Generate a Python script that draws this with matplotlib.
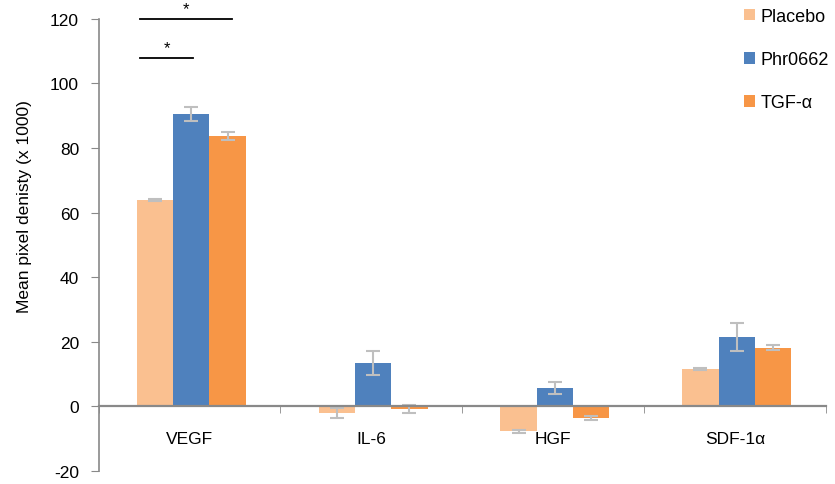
import matplotlib.pyplot as plt
import numpy as np

plt.rcParams['font.family'] = ['Liberation Sans', 'DejaVu Sans']
plt.rcParams['axes.unicode_minus'] = False

categories = ['VEGF', 'IL-6', 'HGF', 'SDF-1α']
series = ['Placebo', 'Phr0662', 'TGF-α']
placebo = [63.9, -2.0, -7.7, 11.7]
placebo_err = [0.4, 1.5, 0.5, 0.3]
phr0662 = [90.6, 13.4, 5.7, 21.4]
phr0662_err = [2.1, 3.8, 1.9, 4.4]
tgf = [83.7, -0.8, -3.6, 18.1]
tgf_err = [1.2, 1.2, 0.7, 0.8]
colors = ['#FAC090', '#4F81BD', '#F79646']

fig = plt.figure(figsize=(8.35, 4.85), dpi=100)
ax = fig.add_axes([0.118, 0.027, 0.871, 0.932])

x = np.arange(len(categories))
width = 0.2
vals = [placebo, phr0662, tgf]
errs = [placebo_err, phr0662_err, tgf_err]
for i, (v, e, c, name) in enumerate(zip(vals, errs, colors, series)):
    ax.bar(x + (i - 1) * width + 0.01, v, width, color=c, label=name,
           yerr=e, ecolor='#BFBFBF', capsize=5,
           error_kw={'elinewidth': 1.5, 'capthick': 1.5})

ax.set_xlim(-0.5, 3.5)
ax.set_ylim(-20, 120)
ax.set_yticks(np.arange(-20, 121, 20))
ax.tick_params(axis='y', labelsize=12.5, length=6, color='#898989', direction='out', pad=8)

ax.set_xticks(x)
ax.set_xticklabels(categories)
ax.set_xticks(np.arange(-0.5, 4, 1), minor=True)
ax.tick_params(axis='x', which='major', length=0, pad=18, labelsize=12.5)
ax.tick_params(axis='x', which='minor', length=5, color='#898989', direction='out')

for s in ['top', 'right']:
    ax.spines[s].set_visible(False)
ax.spines['bottom'].set_position(('data', 0))
ax.spines['left'].set_color('#898989')
ax.spines['left'].set_linewidth(1.2)
ax.spines['bottom'].set_color('#898989')
ax.spines['bottom'].set_linewidth(1.6)

ax.set_ylabel('Mean pixel denisty (x 1000)', fontsize=12.5)
ax.yaxis.set_label_coords(-0.092, 0.586)

# significance markers
ax.plot([-0.27, 0.235], [120, 120], color='black', lw=1.3, clip_on=False)
ax.text(-0.02, 121, '*', ha='center', va='bottom', fontsize=12)
ax.plot([-0.27, 0.02], [107.8, 107.8], color='black', lw=1.3, clip_on=False)
ax.text(-0.125, 108.8, '*', ha='center', va='bottom', fontsize=12)

ax.legend(loc='upper left', bbox_to_anchor=(0.878, 1.04), frameon=False,
          fontsize=13, handlelength=0.6, handleheight=0.6, handletextpad=0.3,
          labelspacing=1.45, borderaxespad=0)

fig.savefig('out.png', dpi=100)
